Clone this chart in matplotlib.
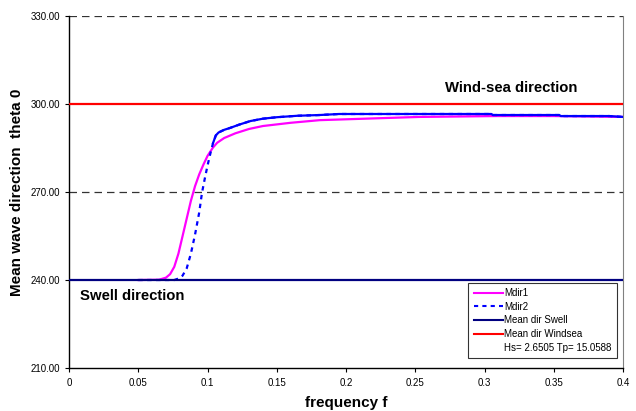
import numpy as np
import matplotlib
matplotlib.use('Agg')
import matplotlib.pyplot as plt
from matplotlib.lines import Line2D

plt.rcParams['font.family'] = ['Liberation Sans', 'DejaVu Sans']

# frequency / mean direction
f1 = [0.05, 0.065, 0.07, 0.073, 0.076, 0.079, 0.082, 0.085, 0.088, 0.091,
      0.094, 0.097, 0.1, 0.104, 0.107, 0.112, 0.12, 0.13, 0.14, 0.16,
      0.181, 0.22, 0.253, 0.309, 0.35, 0.4]
mdir1 = [240, 240.1, 240.8, 242, 244.5, 249, 255, 261, 267, 272,
         276, 279.3, 282.3, 285.2, 286.8, 288.4, 290, 291.5, 292.5, 293.6,
         294.5, 295.1, 295.6, 295.9, 295.9, 295.6]

f2 = [0.05, 0.076, 0.079, 0.082, 0.085, 0.088, 0.091, 0.094, 0.096, 0.098,
      0.1, 0.102, 0.104, 0.106, 0.108, 0.112, 0.116, 0.123, 0.131, 0.14,
      0.15, 0.165, 0.181, 0.195, 0.305, 0.306, 0.354, 0.355, 0.39, 0.4]
mdir2 = [240, 240, 240.5, 241.5, 244, 249, 255.5, 263, 269.7, 274.5,
         279, 283, 286.7, 289.3, 290.3, 291.2, 291.8, 293, 294.2, 295,
         295.5, 296, 296.25, 296.6, 296.6, 296.25, 296.25, 295.9, 295.9, 295.6]

swell_dir = 240.0
windsea_dir = 300.0
hs = 2.6505
tp = 15.0588

fig = plt.figure(figsize=(6.36, 4.11), dpi=100)
ax = fig.add_axes([0.1085, 0.1046, 0.8711, 0.8564])

# dashed gridlines
for yv in [270, 330]:
    ax.axhline(yv, color='#333333', lw=0.9, ls=(0, (6, 4)), zorder=1)

ax.axhline(windsea_dir, color='#ff0000', lw=1.6, zorder=3)
ax.plot(f1, mdir1, color='#ff00ff', lw=1.6, zorder=4)

f2a = np.array(f2)
m2a = np.array(mdir2)
ax.plot(f2a, m2a, color='#0000ff', lw=1.6, ls=(0, (2, 2)), zorder=5)
solid = f2a >= 0.104
ax.plot(f2a[solid], m2a[solid], color='#0000ff', lw=1.6, zorder=5)
ax.axhline(swell_dir, color='#000080', lw=1.6, zorder=6)

ax.set_xlim(0, 0.4)
ax.set_ylim(210, 330)
ax.set_xticks(np.arange(0, 0.401, 0.05))
ax.set_xticklabels(['0', '0.05', '0.1', '0.15', '0.2', '0.25', '0.3', '0.35', '0.4'])
ax.set_yticks([210, 240, 270, 300, 330])
ax.set_yticklabels(['%.2f' % v for v in [210, 240, 270, 300, 330]])
ax.tick_params(labelsize=7, length=3, width=0.8, color='black')
ax.tick_params(axis='x', pad=4)

ax.spines['top'].set_visible(False)
ax.spines['right'].set_color('#808080')
ax.spines['left'].set_linewidth(1.0)
ax.spines['bottom'].set_linewidth(1.0)

ax.set_xlabel('frequency f', fontsize=11, fontweight='bold', labelpad=6)
ax.set_ylabel('Mean wave direction  theta 0', fontsize=11, fontweight='bold', labelpad=5)

ax.text(0.2715, 305.5, 'Wind-sea direction', fontsize=10.7, fontweight='bold',
        ha='left', va='center')
ax.text(0.008, 234.5, 'Swell direction', fontsize=10.7, fontweight='bold',
        ha='left', va='center')

handles = [Line2D([], [], color='#ff00ff', lw=1.5),
           Line2D([], [], color='#0000ff', lw=1.5, ls=(0, (2, 2))),
           Line2D([], [], color='#000080', lw=1.5),
           Line2D([], [], color='#ff0000', lw=1.5),
           Line2D([], [], color='none')]
labels = ['Mdir1', 'Mdir2', 'Mean dir Swell', 'Mean dir Windsea',
          'Hs= %.4f Tp= %.4f' % (hs, tp)]
leg = ax.legend(handles, labels, loc='lower right', bbox_to_anchor=(0.989, 0.028),
                borderaxespad=0, fontsize=7, frameon=True, fancybox=False,
                handlelength=3.0, handletextpad=0.15, labelspacing=0.38,
                borderpad=0.55)
leg.get_frame().set_edgecolor('black')
leg.get_frame().set_linewidth(0.8)

fig.savefig('out.png', dpi=100)
